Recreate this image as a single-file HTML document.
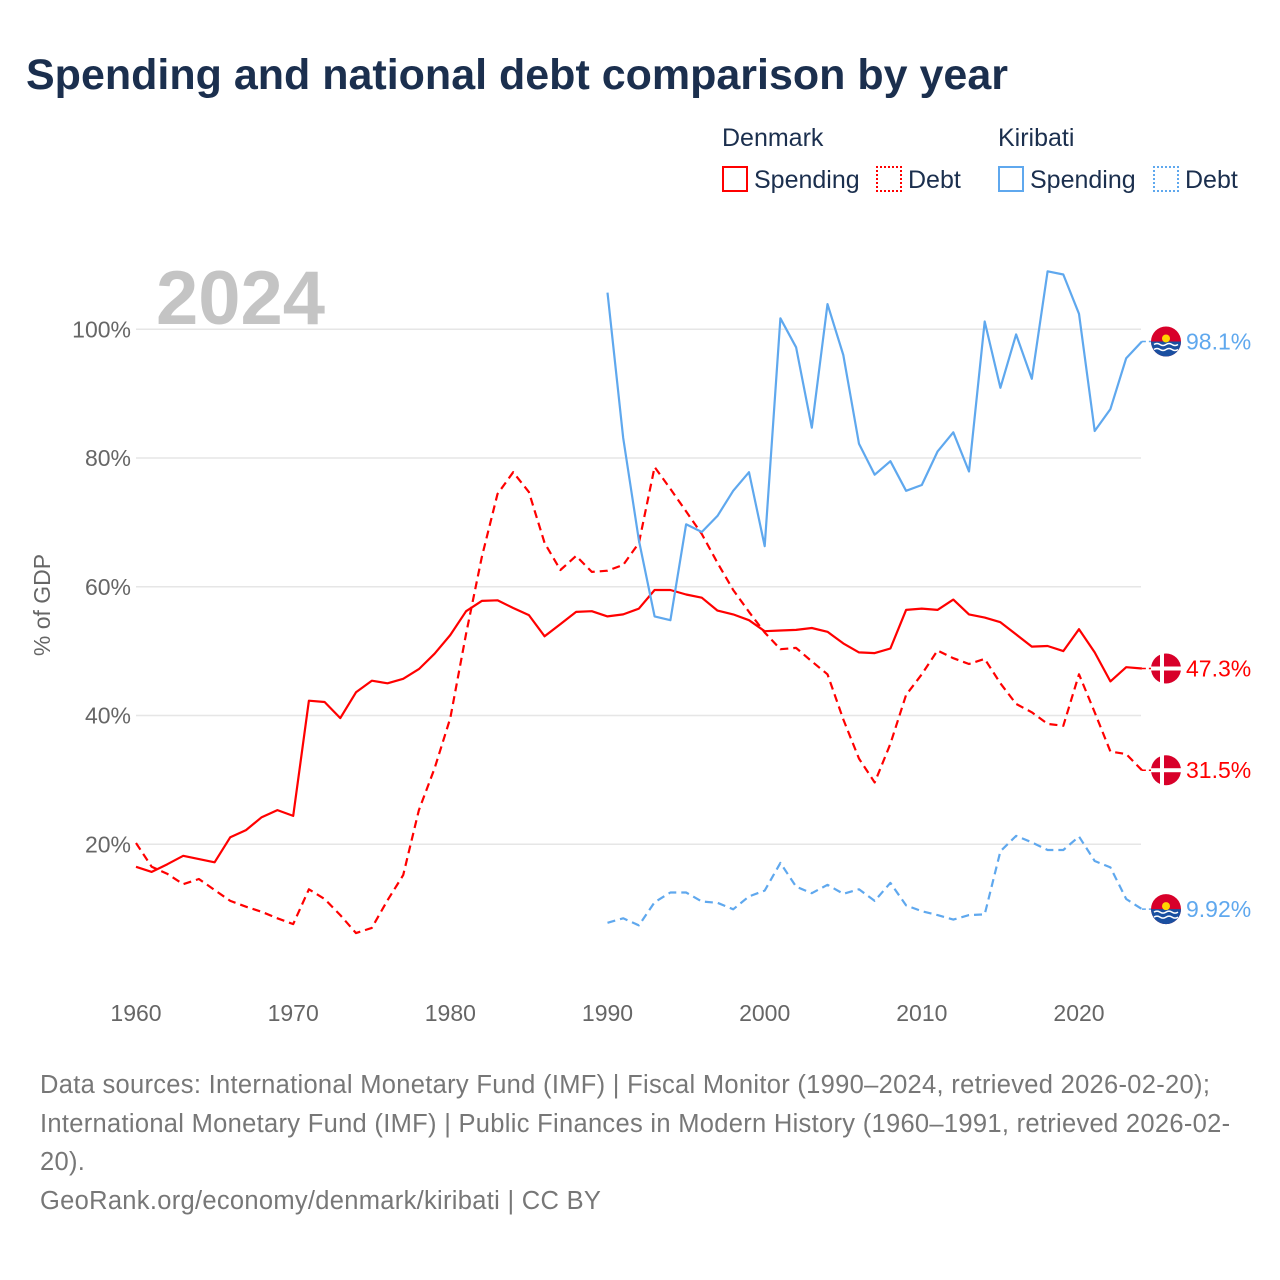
<!DOCTYPE html>
<html><head><meta charset="utf-8"><style>
body{margin:0;background:#fff;font-family:"Liberation Sans",sans-serif;}
#wrap{position:relative;width:1280px;height:1280px;overflow:hidden;}
.t{position:absolute;white-space:nowrap;}
</style></head><body>
<div id="wrap">
<div class="t" style="left:26px;top:51px;font-size:43px;font-weight:bold;color:#1b2f4e;">Spending and national debt comparison by year</div>
<div class="t" style="left:722px;top:124px;font-size:25px;color:#1b2f4e;">Denmark</div>
<div class="t" style="left:998px;top:124px;font-size:25px;color:#1b2f4e;">Kiribati</div>
<div class="t" style="left:722px;top:166px;font-size:25px;color:#1b2f4e;"><span style="display:inline-block;width:22px;height:22px;border:2px solid #f00;vertical-align:-4px;margin-right:6px;"></span>Spending</div>
<div class="t" style="left:876px;top:166px;font-size:25px;color:#1b2f4e;"><span style="display:inline-block;width:22px;height:22px;border:2px dotted #f00;vertical-align:-4px;margin-right:6px;"></span>Debt</div>
<div class="t" style="left:998px;top:166px;font-size:25px;color:#1b2f4e;"><span style="display:inline-block;width:22px;height:22px;border:2px solid #5fa8ee;vertical-align:-4px;margin-right:6px;"></span>Spending</div>
<div class="t" style="left:1153px;top:166px;font-size:25px;color:#1b2f4e;"><span style="display:inline-block;width:22px;height:22px;border:2px dotted #5fa8ee;vertical-align:-4px;margin-right:6px;"></span>Debt</div>
<svg id="chart" width="1280" height="1280" style="position:absolute;left:0;top:0"></svg>
<div class="t" style="left:40px;top:1066px;font-size:25.5px;line-height:38.5px;color:#777;letter-spacing:0.3px;">Data sources: International Monetary Fund (IMF) | Fiscal Monitor (1990–2024, retrieved 2026-02-20);<br>International Monetary Fund (IMF) | Public Finances in Modern History (1960–1991, retrieved 2026-02-<br>20).<br>GeoRank.org/economy/denmark/kiribati | CC BY</div>
</div>
<script>
const denYears=[];for(let y=1960;y<=2024;y++)denYears.push(y);
const kirYears=[];for(let y=1990;y<=2024;y++)kirYears.push(y);
const denSpending=[16.5,15.7,16.9,18.2,17.7,17.2,21.1,22.2,24.2,25.3,24.4,42.3,42.1,39.6,43.6,45.4,45.0,45.7,47.2,49.6,52.5,56.2,57.8,57.9,56.7,55.6,52.3,54.2,56.1,56.2,55.4,55.7,56.6,59.5,59.5,58.8,58.3,56.3,55.7,54.8,53.1,53.2,53.3,53.6,53.0,51.2,49.8,49.7,50.4,56.4,56.6,56.4,58.0,55.7,55.2,54.5,52.6,50.7,50.8,50.0,53.4,49.8,45.3,47.5,47.3];
const denDebt=[20.2,16.5,15.4,13.8,14.6,12.9,11.2,10.3,9.5,8.5,7.6,13.0,11.5,9.0,6.2,7.0,11.3,15.2,25.3,31.8,39.6,52.7,64.6,74.4,77.8,74.7,66.8,62.6,64.8,62.3,62.5,63.4,66.8,78.6,75.2,71.7,68.2,63.7,59.5,56.1,52.9,50.3,50.5,48.4,46.4,39.4,33.3,29.6,35.6,43.2,46.4,50.1,48.9,48.0,48.8,45.0,41.8,40.5,38.7,38.4,46.4,40.5,34.4,34.0,31.5];
const kirSpending=[105.7,83.1,67.2,55.4,54.8,69.7,68.5,71.0,74.9,77.8,66.3,101.7,97.2,84.7,103.9,96.0,82.2,77.4,79.5,74.9,75.8,81.0,84.0,77.9,101.2,90.9,99.2,92.3,109.0,108.5,102.4,84.2,87.6,95.5,98.1];
const kirDebt=[7.8,8.5,7.4,11.0,12.5,12.5,11.1,10.9,9.9,11.9,12.8,17.1,13.4,12.4,13.7,12.3,13.0,11.2,14.0,10.5,9.6,9.0,8.3,9.0,9.1,18.9,21.3,20.3,19.1,19.1,21.2,17.4,16.4,11.5,9.92];
const yTicks=[20,40,60,80,100];
const xTicks=[1960,1970,1980,1990,2000,2010,2020];
const endLabels=["98.1%","47.3%","31.5%","9.92%"];

const NS="http://www.w3.org/2000/svg";
const svg=document.getElementById('chart');
const X=y=>136+(y-1960)*(1079-136)/60;
const Y=v=>973-v*6.4375;
function mk(t,a){const e=document.createElementNS(NS,t);for(const k in a)e.setAttribute(k,a[k]);svg.appendChild(e);return e;}
yTicks.forEach(v=>{
  const l=mk('line',{x1:136,x2:1141,y1:Y(v),y2:Y(v),stroke:'#e6e6e6','stroke-width':1.5});
  
  
  const t=mk('text',{x:131,y:Y(v)+8,'text-anchor':'end','font-size':23,fill:'#666','font-family':'Liberation Sans, sans-serif'});
  t.textContent=v+'%';
  
  
});
xTicks.forEach(v=>{
  const t=mk('text',{x:X(v),y:1021,'text-anchor':'middle','font-size':23,fill:'#666','font-family':'Liberation Sans, sans-serif'});
  t.textContent=v;
  
  
});
const yt=mk('text',{x:0,y:0,'text-anchor':'middle','font-size':23,fill:'#666','font-family':'Liberation Sans, sans-serif',transform:'translate(50,605) rotate(-90)'});
yt.textContent='% of GDP';


const yr=mk('text',{x:156,y:324,'font-size':76,'font-weight':'bold',fill:'#c4c4c4','font-family':'Liberation Sans, sans-serif'});
yr.textContent='2024';


function series(years,vals,color,dash,name){
  const pts=years.map((y,i)=>X(y).toFixed(1)+','+Y(vals[i]).toFixed(1)).join(' ');
  const p=mk('polyline',{points:pts,fill:'none',stroke:color,'stroke-width':2.2,'stroke-linejoin':'round'});
  if(dash)p.setAttribute('stroke-dasharray','8,5');
  
  
  const last=vals[vals.length-1];
  const c=mk('line',{x1:X(years[years.length-1]),x2:1152,y1:Y(last),y2:Y(last),stroke:color,'stroke-width':1.5,'stroke-dasharray':'4,3'});
  
  
}
series(denYears,denSpending,'#ff0000',false,'denmark-spending-line');
series(denYears,denDebt,'#ff0000',true,'denmark-debt-line');
series(kirYears,kirSpending,'#5fa8ee',false,'kiribati-spending-line');
series(kirYears,kirDebt,'#5fa8ee',true,'kiribati-debt-line');
function flag(type,v,label,color){
  const cx=1166,cy=Y(v);
  const g=document.createElementNS(NS,'g');svg.appendChild(g);
  
  
  const add=(t,a)=>{const e=document.createElementNS(NS,t);for(const k in a)e.setAttribute(k,a[k]);g.appendChild(e);return e;};
  if(type==='denmark'){
    add('circle',{cx,cy,r:15,fill:'#d8002a'});
    add('rect',{x:cx-6,y:cy-15,width:4,height:30,fill:'#fff'});
    add('rect',{x:cx-15,y:cy-2,width:30,height:4,fill:'#fff'});
  }else{
    add('circle',{cx,cy,r:15,fill:'#d8002a'});
    add('path',{d:`M${cx-15},${cy} A15,15 0 0 0 ${cx+15},${cy} Z`,fill:'#1a4fa0'});
    add('circle',{cx,cy:cy-3,r:4,fill:'#ffd400'});
    add('path',{d:`M${cx-12},${cy+3} q3,-2 6,0 t6,0 t6,0 t6,0 M${cx-12},${cy+8} q3,-2 6,0 t6,0 t6,0 t6,0`,stroke:'#fff','stroke-width':1.5,fill:'none'});
  }
  const t=mk('text',{x:1186,y:cy+8,'font-size':23,fill:color,'font-family':'Liberation Sans, sans-serif'});
  t.textContent=label;
  
  
}
flag('kiribati',kirSpending[kirSpending.length-1],endLabels[0],'#5fa8ee');
flag('denmark',denSpending[denSpending.length-1],endLabels[1],'#ff0000');
flag('denmark',denDebt[denDebt.length-1],endLabels[2],'#ff0000');
flag('kiribati',kirDebt[kirDebt.length-1],endLabels[3],'#5fa8ee');
</script>
</body></html>
